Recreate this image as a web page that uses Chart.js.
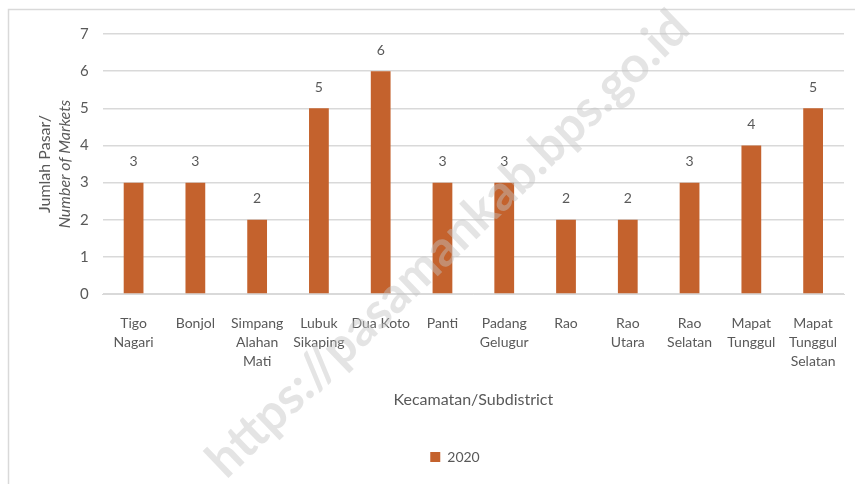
<!DOCTYPE html>
<html>
<head>
<meta charset="utf-8">
<script src="https://cdn.jsdelivr.net/npm/chart.js@4/dist/chart.umd.min.js"></script>
<style>
  html, body { margin: 0; padding: 0; background: #fff; }
  #wrap { width: 855px; height: 484px; position: relative; }
</style>
</head>
<body>
<div id="wrap"><canvas id="barChart" width="855" height="484"></canvas></div>
<script>
// Data
const districts = [
  ["Tigo", "Nagari"],
  "Bonjol",
  ["Simpang", "Alahan", "Mati"],
  ["Lubuk", "Sikaping"],
  "Dua Koto",
  "Panti",
  ["Padang", "Gelugur"],
  "Rao",
  ["Rao", "Utara"],
  ["Rao", "Selatan"],
  ["Mapat", "Tunggul"],
  ["Mapat", "Tunggul", "Selatan"],
];
const markets2020 = [3, 3, 2, 5, 6, 3, 3, 2, 2, 3, 4, 5];
const seriesLabel = "2020";
const yTicks = [0, 1, 2, 3, 4, 5, 6, 7];

const barColor = "#C4622D";
const textColor = "#595959";
const fontFamily = "Lato, 'Open Sans', sans-serif";

// Frame, value labels, y-axis title and watermark
const extras = {
  id: "extras",
  beforeDraw(chart) {
    const ctx = chart.ctx;
    ctx.save();
    ctx.fillStyle = "#fff";
    ctx.fillRect(0, 0, chart.width, chart.height);
    ctx.strokeStyle = "#d9d9d9";
    ctx.lineWidth = 1.5;
    ctx.beginPath();
    ctx.moveTo(8.5, chart.height);
    ctx.lineTo(8.5, 9.5);
    ctx.lineTo(chart.width, 9.5);
    ctx.stroke();
    ctx.restore();
  },
  afterDraw(chart) {
    const ctx = chart.ctx;
    const meta = chart.getDatasetMeta(0);
    ctx.save();
    ctx.fillStyle = textColor;
    ctx.font = "14px " + fontFamily;
    ctx.textAlign = "center";
    ctx.textBaseline = "middle";
    meta.data.forEach((bar, i) => {
      ctx.fillText(String(markets2020[i]), bar.x, bar.y - 21);
    });

    // y-axis title, two lines, second italic
    const area = chart.chartArea;
    const cy = (area.top + area.bottom) / 2;
    ctx.translate(55, cy);
    ctx.rotate(-Math.PI / 2);
    ctx.font = "16px " + fontFamily;
    ctx.fillText("Jumlah Pasar/", 0, -10);
    ctx.font = "italic 16px " + fontFamily;
    ctx.fillText("Number of Markets", 0, 10);
    ctx.restore();

    // watermark
    ctx.save();
    ctx.translate(448, 244);
    ctx.rotate(-Math.PI / 4.1);
    ctx.font = "bold 50px " + fontFamily;
    ctx.fillStyle = "rgba(195, 195, 195, 0.45)";
    ctx.textAlign = "center";
    ctx.textBaseline = "middle";
    ctx.fillText("https://pasamankab.bps.go.id", 0, 0);
    ctx.restore();
  },
};

const ctx = document.getElementById("barChart").getContext("2d");
new Chart(ctx, {
  type: "bar",
  data: {
    labels: districts,
    datasets: [
      {
        label: seriesLabel,
        data: markets2020,
        backgroundColor: barColor,
        borderWidth: 0,
        categoryPercentage: 1,
        barPercentage: 0.32,
      },
    ],
  },
  options: {
    responsive: false,
    animation: false,
    layout: { padding: { left: 66, right: 11, top: 34, bottom: 10 } },
    plugins: {
      legend: {
        position: "bottom",
        labels: {
          color: textColor,
          font: { family: fontFamily, size: 14 },
          boxWidth: 10,
          boxHeight: 10,
          padding: 10,
        },
      },
      tooltip: { enabled: false },
    },
    scales: {
      x: {
        grid: { display: false },
        border: { color: "#d9d9d9", width: 1 },
        ticks: {
          color: textColor,
          font: { family: fontFamily, size: 14, lineHeight: 1.35 },
          maxRotation: 0,
          autoSkip: false,
          padding: 12,
        },
        title: {
          display: true,
          text: "Kecamatan/Subdistrict",
          color: textColor,
          font: { family: fontFamily, size: 16 },
          padding: { top: 7, bottom: 31 },
        },
      },
      y: {
        min: 0,
        max: 7,
        afterBuildTicks: axis => {
          axis.ticks = yTicks.map(v => ({ value: v }));
        },
        grid: { color: "#d9d9d9", lineWidth: 1.5, drawTicks: false },
        border: { display: false },
        ticks: {
          color: textColor,
          font: { family: fontFamily, size: 15 },
          padding: 14,
        },
      },
    },
  },
  plugins: [extras],
});
</script>
</body>
</html>
